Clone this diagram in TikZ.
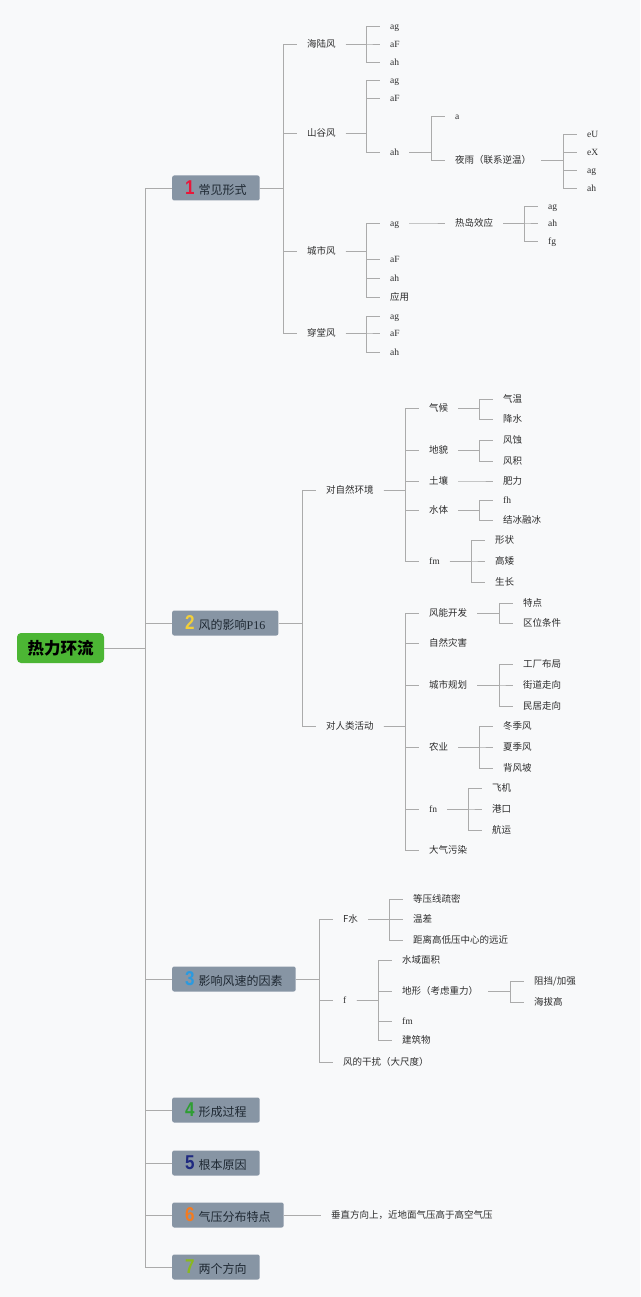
\documentclass[tikz,border=0pt]{standalone}
\usepackage{fontspec}
\setmainfont{Liberation Serif}
\newfontfamily\cjk{Noto Sans CJK SC}
\newfontfamily\numf{Liberation Sans}
\definecolor{bgc}{HTML}{F8F9FA}
\definecolor{boxc}{HTML}{8795A4}
\definecolor{boxt}{HTML}{1F2933}
\definecolor{lnc}{HTML}{ABABAB}
\definecolor{tc}{HTML}{2E2E2E}
\definecolor{rootc}{HTML}{4CB634}
\definecolor{c1}{HTML}{E8173A}
\definecolor{c2}{HTML}{F2CF3A}
\definecolor{c3}{HTML}{2A9AE0}
\definecolor{c4}{HTML}{2E9E32}
\definecolor{c5}{HTML}{1F2A80}
\definecolor{c6}{HTML}{F47B20}
\definecolor{c7}{HTML}{8AB81E}
\newcommand\numlab[2]{{\color{#1}\numf\bfseries\fontsize{20}{20}\selectfont\scalebox{0.85}[1]{#2}}\hspace{4pt}}
\newcommand\conn[2]{\foreach \c in {#2} {\draw[ln] (#1.east) -- ([xshift=-14pt]\c.west |- #1.east) |- (\c.west);}}
\begin{document}
\begin{tikzpicture}[x=1pt,y=-1pt,
  t/.style={anchor=west, inner xsep=10pt, inner ysep=1pt, text height=8pt, text depth=1pt, text=tc, font=\cjk\fontsize{9.5}{11}\selectfont},
  l/.style={t, font=\rmfamily\fontsize{9.5}{11}\selectfont},
  box/.style={anchor=west, fill=boxc, rounded corners=2pt, minimum height=25pt, inner xsep=13pt, inner ysep=0pt, text=boxt, font=\cjk\fontsize{12}{14}\selectfont},
  rootbox/.style={fill=rootc, rounded corners=4pt, minimum width=87pt, minimum height=30pt, text=black, font=\cjk\bfseries\fontsize{16.5}{18}\selectfont},
  ln/.style={draw=lnc, line width=0.9pt}]
\fill[bgc] (0,0) rectangle (640,1297);
\useasboundingbox (0,0) rectangle (640,1297);

\node[rootbox] (r) at (60.5,648) {热力环流};

% level 1
\node[box] (b1) at (172,188) {\numlab{c1}{1}常见形式};
\node[box] (b2) at (172,623) {\numlab{c2}{2}风的影响{\rmfamily P16}};
\node[box] (b3) at (172,979) {\numlab{c3}{3}影响风速的因素};
\node[box] (b4) at (172,1110) {\numlab{c4}{4}形成过程};
\node[box] (b5) at (172,1163) {\numlab{c5}{5}根本原因};
\node[box] (b6) at (172,1215) {\numlab{c6}{6}气压分布特点};
\node[box] (b7) at (172,1267) {\numlab{c7}{7}两个方向};
\foreach \c in {b1,b2,b3,b4,b5,b6,b7} {\draw[ln] (r.east) -- ([xshift=-27pt]\c.west |- r.east) |- (\c.west);}

% branch 1
\node[t] (hl) at (297,44) {海陆风};
\node[l] (hl1) at (380,26) {ag};
\node[l] (hl2) at (380,44) {aF};
\node[l] (hl3) at (380,62) {ah};
\node[t] (sg) at (297,133) {山谷风};
\node[l] (sg1) at (380,80) {ag};
\node[l] (sg2) at (380,98) {aF};
\node[l] (sg3) at (380,152) {ah};
\node[l] (sga) at (445,116) {a};
\node[t] (yy) at (445,160) {夜雨（联系逆温）};
\node[l] (yy1) at (577,134) {eU};
\node[l] (yy2) at (577,152) {eX};
\node[l] (yy3) at (577,170) {ag};
\node[l] (yy4) at (577,188) {ah};
\node[t] (cs) at (297,251) {城市风};
\node[l] (cs1) at (380,223) {ag};
\node[l] (cs2) at (380,259) {aF};
\node[l] (cs3) at (380,278) {ah};
\node[t] (cs4) at (380,297) {应用};
\node[t] (rd) at (445,223) {热岛效应};
\node[l] (rd1) at (538,206) {ag};
\node[l] (rd2) at (538,223) {ah};
\node[l] (rd3) at (538,241) {fg};
\node[t] (ct) at (297,333) {穿堂风};
\node[l] (ct1) at (380,316) {ag};
\node[l] (ct2) at (380,333) {aF};
\node[l] (ct3) at (380,352) {ah};
\conn{b1}{hl,sg,cs,ct}
\conn{hl}{hl1,hl2,hl3}
\conn{sg}{sg1,sg2,sg3}
\conn{sg3}{sga,yy}
\conn{yy}{yy1,yy2,yy3,yy4}
\conn{cs}{cs1,cs2,cs3,cs4}
\conn{cs1}{rd}
\conn{rd}{rd1,rd2,rd3}
\conn{ct}{ct1,ct2,ct3}

% branch 2
\node[t] (zr) at (316,490) {对自然环境};
\node[t] (zr1) at (419,408) {气候};
\node[t] (zr2) at (419,450) {地貌};
\node[t] (zr3) at (419,481) {土壤};
\node[t] (zr4) at (419,510) {水体};
\node[l] (zr5) at (419,561) {fm};
\node[t] (qh1) at (493,399) {气温};
\node[t] (qh2) at (493,419) {降水};
\node[t] (dm1) at (493,440) {风蚀};
\node[t] (dm2) at (493,461) {风积};
\node[t] (tr1) at (493,481) {肥力};
\node[l] (st1) at (493,500) {fh};
\node[t] (st2) at (493,520) {结冰融冰};
\node[t] (fm1) at (485,540) {形状};
\node[t] (fm2) at (485,561) {高矮};
\node[t] (fm3) at (485,582) {生长};
\node[t] (rl) at (316,726) {对人类活动};
\node[t] (rl1) at (419,613) {风能开发};
\node[t] (rl2) at (419,643) {自然灾害};
\node[t] (rl3) at (419,685) {城市规划};
\node[t] (rl4) at (419,747) {农业};
\node[l] (rl5) at (419,809) {fn};
\node[t] (rl6) at (419,850) {大气污染};
\node[t] (fn1) at (513,603) {特点};
\node[t] (fn2) at (513,623) {区位条件};
\node[t] (gh1) at (513,664) {工厂布局};
\node[t] (gh2) at (513,685) {街道走向};
\node[t] (gh3) at (513,706) {民居走向};
\node[t] (ny1) at (493,726) {冬季风};
\node[t] (ny2) at (493,747) {夏季风};
\node[t] (ny3) at (493,768) {背风坡};
\node[t] (fx1) at (482,788) {飞机};
\node[t] (fx2) at (482,809) {港口};
\node[t] (fx3) at (482,830) {航运};
\conn{b2}{zr,rl}
\conn{zr}{zr1,zr2,zr3,zr4,zr5}
\conn{zr1}{qh1,qh2}
\conn{zr2}{dm1,dm2}
\conn{zr3}{tr1}
\conn{zr4}{st1,st2}
\conn{zr5}{fm1,fm2,fm3}
\conn{rl}{rl1,rl2,rl3,rl4,rl5,rl6}
\conn{rl1}{fn1,fn2}
\conn{rl3}{gh1,gh2,gh3}
\conn{rl4}{ny1,ny2,ny3}
\conn{rl5}{fx1,fx2,fx3}

% branch 3
\node[t] (fs) at (333,919) {F水};
\node[t] (fs1) at (403,899) {等压线疏密};
\node[t] (fs2) at (403,919) {温差};
\node[t] (fs3) at (403,940) {距离高低压中心的远近};
\node[l] (ff) at (333,1000) {f};
\node[t] (ff1) at (392,960) {水域面积};
\node[t] (ff2) at (392,991) {地形（考虑重力）};
\node[l] (ff3) at (392,1021) {fm};
\node[t] (ff4) at (392,1040) {建筑物};
\node[t] (dx1) at (524,981) {阻挡/加强};
\node[t] (dx2) at (524,1002) {海拔高};
\node[t] (gr) at (333,1062) {风的干扰（大尺度）};
\conn{b3}{fs,ff,gr}
\conn{fs}{fs1,fs2,fs3}
\conn{ff}{ff1,ff2,ff3,ff4}
\conn{ff2}{dx1,dx2}

% branch 6
\node[t] (qy) at (321,1215) {垂直方向上，近地面气压高于高空气压};
\draw[ln] (b6.east) -- (qy.west);
\end{tikzpicture}
\end{document}
